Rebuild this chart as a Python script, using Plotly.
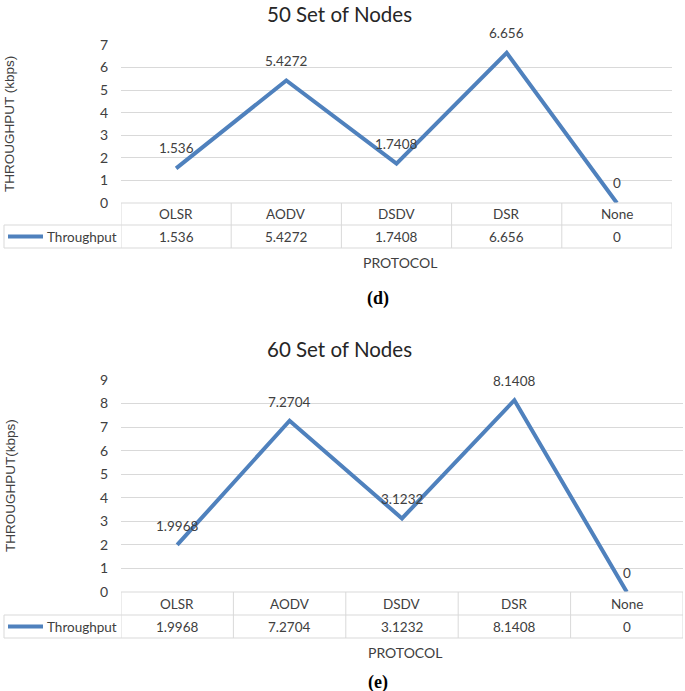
import plotly.graph_objects as go

categories = ["OLSR", "AODV", "DSDV", "DSR", "None"]
throughput_50 = [1.536, 5.4272, 1.7408, 6.656, 0]
throughput_60 = [1.9968, 7.2704, 3.1232, 8.1408, 0]
labels_50 = ["1.536", "5.4272", "1.7408", "6.656", "0"]
labels_60 = ["1.9968", "7.2704", "3.1232", "8.1408", "0"]
series_name = "Throughput"
titles = ["50 Set of Nodes", "60 Set of Nodes"]
ytitles = ["THROUGHPUT (kbps)", "THROUGHPUT(kbps)"]
xtitle = "PROTOCOL"
captions = ["(d)", "(e)"]

W, H = 685, 691
BLUE = "#4F81BD"
GRID = "#d9d9d9"
TXT = "#404040"
FONT = "Lato"


def px(x):
    return x / W


def py(y):
    return 1 - y / H


fig = go.Figure()

charts = [
    dict(vals=throughput_50, labs=labels_50, xl=121, xr=672, ytop=45, y0=203, r1=225, r2=248,
         ymax=7, title_y=14, xt_y=262, xt_x=400, cap_y=298, shift=20, xa="x", ya="y"),
    dict(vals=throughput_60, labs=labels_60, xl=121, xr=683, ytop=380, y0=592, r1=615, r2=638,
         ymax=9, title_y=349, xt_y=652, xt_x=405, cap_y=682, shift=19, xa="x2", ya="y2"),
]


def ann(**kw):
    d = dict(showarrow=False, xanchor="center", yanchor="middle")
    d.update(kw)
    return d


shapes = []
annotations = []
for i, c in enumerate(charts):
    fig.add_trace(go.Scatter(
        x=categories, y=c["vals"], mode="lines", name=series_name,
        line=dict(color=BLUE, width=4), xaxis=c["xa"], yaxis=c["ya"],
        showlegend=False, hoverinfo="x+y",
    ))
    axn = "" if i == 0 else "2"
    fig.update_layout(**{
        "xaxis" + axn: dict(domain=[px(c["xl"]), px(c["xr"])], range=[-0.5, len(categories) - 0.5],
                            showticklabels=False, showgrid=False, zeroline=False, showline=False,
                            anchor="y" + axn, type="category", automargin=False),
        "yaxis" + axn: dict(domain=[py(c["y0"]), py(c["ytop"])], range=[0, c["ymax"]], dtick=1,
                            gridcolor=GRID, gridwidth=1, zeroline=False, showline=False,
                            ticks="", ticklabelstandoff=12, automargin=False,
                            tickfont=dict(family=FONT, size=14, color=TXT),
                            anchor="x" + axn),
    })
    xr = "x" if i == 0 else "x2"
    yr = "y" if i == 0 else "y2"
    for cat, v, lab in zip(categories, c["vals"], c["labs"]):
        annotations.append(ann(x=cat, y=v, xref=xr, yref=yr, text=lab,
                               yshift=c["shift"], font=dict(family=FONT, size=13.5, color=TXT)))
    n = len(categories)
    line = dict(color=GRID, width=1)
    shapes.append(dict(type="line", xref=xr, yref="paper", x0=-0.5, x1=n - 0.5,
                       y0=py(c["y0"]), y1=py(c["y0"]), line=line))
    for yy in (c["r1"], c["r2"]):
        shapes.append(dict(type="line", xref="paper", yref="paper", x0=px(4), x1=px(c["xr"]),
                           y0=py(yy), y1=py(yy), line=line))
    for k in range(n + 1):
        shapes.append(dict(type="line", xref=xr, yref="paper", x0=k - 0.5, x1=k - 0.5,
                           y0=py(c["y0"]), y1=py(c["r2"]), line=line))
    shapes.append(dict(type="line", xref="paper", yref="paper", x0=px(4), x1=px(4),
                       y0=py(c["r1"]), y1=py(c["r2"]), line=line))
    hy = (c["y0"] + c["r1"]) / 2
    dy = (c["r1"] + c["r2"]) / 2
    for k, cat in enumerate(categories):
        annotations.append(ann(x=k, y=py(hy), xref=xr, yref="paper", text=cat,
                               font=dict(family=FONT, size=13.5, color=TXT)))
        annotations.append(ann(x=k, y=py(dy), xref=xr, yref="paper", text=c["labs"][k],
                               font=dict(family=FONT, size=13.5, color=TXT)))
    shapes.append(dict(type="line", xref="paper", yref="paper", x0=px(8), x1=px(43),
                       y0=py(dy), y1=py(dy), line=dict(color=BLUE, width=4)))
    annotations.append(ann(x=px(45), y=py(dy), xref="paper", yref="paper", text=series_name,
                           xanchor="left", font=dict(family=FONT, size=13.5, color=TXT)))
    annotations.append(ann(x=px(339), y=py(c["title_y"]), xref="paper", yref="paper",
                           text=titles[i], font=dict(family=FONT, size=20.5, color="#262626")))
    annotations.append(ann(x=px(10), y=py((c["ytop"] + c["y0"]) / 2), xref="paper", yref="paper",
                           text=ytitles[i], textangle=-90,
                           font=dict(family="Liberation Sans", size=13.5, color=TXT)))
    annotations.append(ann(x=px(c["xt_x"]), y=py(c["xt_y"]), xref="paper", yref="paper",
                           text=xtitle, font=dict(family=FONT, size=14, color=TXT)))
    annotations.append(ann(x=px(378), y=py(c["cap_y"]), xref="paper", yref="paper",
                           text="<b>" + captions[i] + "</b>",
                           font=dict(family="Liberation Serif", size=18, color="black")))

fig.update_layout(width=W, height=H, margin=dict(l=0, r=0, t=0, b=0, pad=0, autoexpand=False),
                  paper_bgcolor="white", plot_bgcolor="white",
                  shapes=shapes, annotations=annotations, showlegend=False)

fig.write_html("out.html", config={"displayModeBar": False},
               post_script="document.body.style.margin='0';document.body.style.overflow='hidden';")
